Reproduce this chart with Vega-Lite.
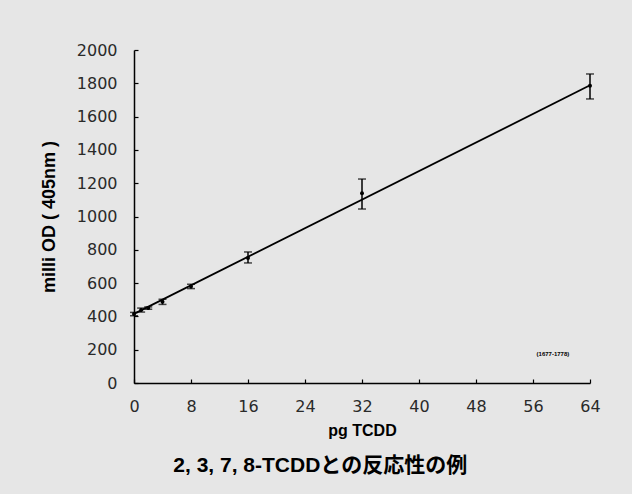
{
  "$schema": "https://vega.github.io/schema/vega-lite/v6.json",
  "autosize": "none",
  "width": 456,
  "height": 333,
  "padding": {"left": 134, "top": 50, "right": 42, "bottom": 111},
  "background": "#e6e6e6",
  "config": {
    "view": {"stroke": null},
    "axis": {
      "domainColor": "#000000",
      "domainWidth": 1.5,
      "tickColor": "#000000",
      "tickWidth": 1.2,
      "tickSize": -4,
      "grid": false,
      "labelFont": "DejaVu Sans",
      "labelFontSize": 16,
      "labelColor": "#2a2a2a",
      "labelOverlap": false,
      "labelFlush": false,
      "labelBound": false,
      "format": "d",
      "titleFont": "Liberation Sans",
      "titleFontSize": 16,
      "titleFontWeight": "bold",
      "titleColor": "#000000"
    }
  },
  "title": {
    "text": "2, 3, 7, 8-TCDDとの反応性の例",
    "orient": "bottom",
    "anchor": "middle",
    "frame": "bounds",
    "font": "Liberation Sans, Noto Sans CJK JP",
    "fontSize": 21,
    "fontWeight": "bold",
    "color": "#000000",
    "offset": 17
  },
  "datasets": {
    "points": [
      {"pg": 0, "od": 414, "lo": 404, "hi": 424},
      {"pg": 1, "od": 438, "lo": 426, "hi": 450},
      {"pg": 2, "od": 450, "lo": 443, "hi": 457},
      {"pg": 4, "od": 488, "lo": 472, "hi": 503},
      {"pg": 8, "od": 580, "lo": 567, "hi": 593},
      {"pg": 16, "od": 751, "lo": 721, "hi": 787},
      {"pg": 32, "od": 1140, "lo": 1045, "hi": 1225},
      {"pg": 64, "od": 1785, "lo": 1706, "hi": 1856}
    ],
    "fit": [
      {"pg": 0, "od": 415},
      {"pg": 64, "od": 1788}
    ],
    "note": [
      {"pg": 58.8, "od": 174, "label": "(1677-1778)"}
    ]
  },
  "encoding": {
    "x": {
      "field": "pg", "type": "quantitative",
      "scale": {"domain": [0, 64], "nice": false},
      "axis": {"values": [0, 8, 16, 24, 32, 40, 48, 56, 64], "title": "pg TCDD", "labelPadding": 19, "titlePadding": 8}
    }
  },
  "layer": [
    {
      "data": {"name": "fit"},
      "mark": {"type": "line", "color": "#000000", "strokeWidth": 1.8},
      "encoding": {
        "y": {
          "field": "od", "type": "quantitative",
          "scale": {"domain": [0, 2000], "nice": false},
          "axis": {"tickCount": 10, "title": "milli OD ( 405nm )", "titleFontSize": 18, "labelPadding": 21, "titlePadding": 18}
        }
      }
    },
    {
      "data": {"name": "points"},
      "mark": {"type": "rule", "color": "#000000", "strokeWidth": 1.5},
      "encoding": {
        "y": {"field": "lo", "type": "quantitative"},
        "y2": {"field": "hi"}
      }
    },
    {
      "data": {"name": "points"},
      "mark": {"type": "tick", "orient": "horizontal", "color": "#000000", "size": 8, "thickness": 1.5},
      "encoding": {
        "y": {"field": "lo", "type": "quantitative"}
      }
    },
    {
      "data": {"name": "points"},
      "mark": {"type": "tick", "orient": "horizontal", "color": "#000000", "size": 8, "thickness": 1.5},
      "encoding": {
        "y": {"field": "hi", "type": "quantitative"}
      }
    },
    {
      "data": {"name": "points"},
      "mark": {"type": "circle", "color": "#000000", "size": 16, "opacity": 1},
      "encoding": {
        "y": {"field": "od", "type": "quantitative"}
      }
    },
    {
      "data": {"name": "note"},
      "mark": {"type": "text", "font": "Liberation Sans", "fontSize": 6, "fontWeight": "bold", "color": "#000000"},
      "encoding": {
        "y": {"field": "od", "type": "quantitative"},
        "text": {"field": "label"}
      }
    }
  ]
}
